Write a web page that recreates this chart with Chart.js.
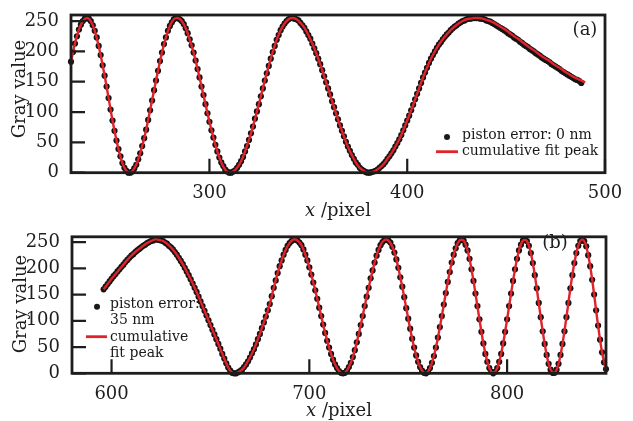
<!DOCTYPE html>
<html>
<head>
<meta charset="utf-8">
<script src="https://cdn.jsdelivr.net/npm/chart.js@4.4.1/dist/chart.umd.min.js"></script>
<style>
  html, body { margin: 0; padding: 0; background: #fff; }
  #wrap { position: relative; width: 633px; height: 421px; }
  canvas { position: absolute; left: 0; }
  #chartA { top: 0; }
  #chartB { top: 222px; }
</style>
</head>
<body>
<div id="wrap">
  <canvas id="chartA" width="633" height="222"></canvas>
  <canvas id="chartB" width="633" height="199"></canvas>
</div>
<script>
// panel (a): measured gray value, one per pixel column starting at x = 230
const startA = 230;
const grayA = [
  183,199,213,225,236,244,250,254,255,254,
  250,243,234,223,209,194,177,160,142,123,
  104,86,69,53,39,27,16,8,3,0,
  0,2,7,13,22,32,44,57,71,87,
  103,119,136,152,168,184,198,212,223,234,
  242,248,253,255,255,253,250,245,238,230,
  220,210,198,185,171,157,142,128,113,98,
  84,70,58,46,35,25,17,11,5,2,
  0,0,2,4,8,13,19,26,35,44,
  54,65,76,89,101,113,126,139,152,164,
  176,188,199,209,219,227,235,241,246,250,
  253,255,255,254,253,251,247,243,239,233,
  227,221,213,205,197,188,179,169,159,149,
  139,129,118,108,98,88,78,69,60,51,
  43,36,29,23,17,13,8,5,3,1,
  0,0,1,2,3,5,8,11,14,18,
  23,27,32,37,43,49,55,62,70,78,
  86,94,103,112,121,130,139,148,157,165,
  173,181,188,194,200,206,211,215,220,224,
  228,231,235,238,241,243,246,248,250,251,
  253,254,254,255,255,255,255,254,254,253,
  251,250,249,247,245,243,241,239,237,235,
  233,230,228,226,223,221,219,216,214,211,
  209,207,204,202,200,197,195,193,190,188,
  186,184,182,179,177,175,173,171,168,166,
  164,162,160,158,156,154,153,151,148
];
// panel (a): cumulative fit peak, every 2 pixels from x = 230
const fitStartA = 230;
const fitA = [
  183,213,236,250,255,250,234,209,177,142,
  104,69,39,16,3,0,7,22,44,71,
  103,136,168,198,223,242,253,255,250,238,
  220,198,171,142,113,84,58,35,17,5,
  0,2,8,19,35,54,76,101,126,152,
  176,199,219,235,246,253,255,253,247,239,
  227,213,197,179,159,139,118,98,78,60,
  43,29,17,8,3,0,1,3,8,14,
  23,32,43,55,70,86,103,121,139,157,
  173,188,200,211,220,228,235,241,246,250,
  253,254,255,255,254,252,250,247,243,239,
  235,230,225,221,216,211,206,202,197,192,
  188,184,179,175,171,166,162,158,155,152,
  149
];

// panel (b): measured gray value, one per pixel column starting at x = 596
const startB = 596;
const grayB = [
  160,165,170,175,180,185,189,194,198,203,
  207,212,216,220,224,227,231,234,237,240,
  243,245,248,250,252,253,255,255,254,253,
  252,249,247,243,240,236,231,226,220,214,
  208,201,194,187,179,171,163,155,146,137,
  128,119,110,101,92,83,74,65,56,47,
  37,28,19,11,5,1,0,0,2,4,
  7,12,17,23,30,38,46,55,65,75,
  86,97,108,120,132,147,163,177,191,204,
  215,226,235,243,248,252,255,255,253,249,
  244,236,226,215,202,188,173,158,142,125,
  109,93,77,62,49,37,26,17,10,4,
  1,0,1,5,12,20,31,44,59,75,
  92,109,128,146,163,181,196,211,224,235,
  244,250,254,255,253,249,241,230,217,201,
  183,165,145,124,104,85,66,49,34,22,
  12,5,1,0,3,10,20,33,49,68,
  88,109,131,153,174,193,211,226,238,248,
  253,255,253,245,234,218,198,176,152,128,
  103,79,57,37,22,10,3,0,3,10,
  22,37,57,79,103,128,152,176,198,218,
  234,245,253,255,252,243,229,210,187,162,
  134,107,80,56,35,18,7,1,1,7,
  18,35,56,80,107,134,162,187,210,229,
  243,252,255,252,242,225,204,178,150,120,
  91,64,40,21,8
];
// panel (b): cumulative fit peak, every 2 pixels from x = 596
const fitStartB = 596;
const fitB = [
  160,170,180,189,198,207,216,224,231,237,
  243,248,252,255,254,252,247,240,231,220,
  208,194,179,163,146,128,110,92,74,56,
  37,19,5,0,2,7,17,30,46,65,
  86,108,132,163,191,215,235,248,255,253,
  244,226,202,173,142,109,77,49,26,10,
  1,1,12,31,59,92,128,163,196,224,
  244,254,253,241,217,183,145,104,66,34,
  12,1,3,20,49,88,131,174,211,238,
  253,253,234,198,152,103,57,22,3,3,
  22,57,103,152,198,234,253,252,229,187,
  134,80,35,7,1,18,56,107,162,210,
  243,255,242,204,150,91,40,8
];

const yTicks = [0, 50, 100, 150, 200, 250];
const xTicksA = [300, 400, 500];
const xTicksB = [600, 700, 800];

const dotLabelA = ['piston error: 0 nm'];
const fitLabelA = ['cumulative fit peak'];
const dotLabelB = ['piston error:', '35 nm'];
const fitLabelB = ['cumulative', 'fit peak'];

const SERIF = '"DejaVu Serif", "Liberation Serif", serif';
const INK = '#1d1d1d';
const RED = '#e0222b';

function toPoints(start, step, values) {
  return values.map((v, i) => ({ x: start + i * step, y: v }));
}

// box, inward ticks, axis titles, legend and panel tag
const framePlugin = {
  id: 'frame',
  afterDatasetsDraw(chart, args, o) {
    const { ctx, chartArea: a, scales } = chart;
    ctx.save();

    ctx.strokeStyle = INK;
    ctx.lineWidth = 2.2;
    ctx.beginPath();
    scales.y.ticks.forEach(t => {
      const y = scales.y.getPixelForValue(t.value);
      ctx.moveTo(a.left, y);
      ctx.lineTo(a.left + 14, y);
    });
    scales.x.ticks.forEach(t => {
      const x = scales.x.getPixelForValue(t.value);
      ctx.moveTo(x, a.bottom);
      ctx.lineTo(x, a.bottom - 14);
    });
    ctx.stroke();

    ctx.lineWidth = 2.8;
    ctx.strokeRect(a.left, a.top, a.right - a.left, a.bottom - a.top);

    // y title
    ctx.fillStyle = '#1e1e1e';
    ctx.font = '18px ' + SERIF;
    ctx.textAlign = 'center';
    ctx.textBaseline = 'middle';
    ctx.save();
    ctx.translate(o.yTitleX, o.yTitleY);
    ctx.rotate(-Math.PI / 2);
    ctx.fillText('Gray value', 0, 0);
    ctx.restore();

    // x title with italic x
    ctx.textAlign = 'left';
    ctx.font = 'italic 18px ' + SERIF;
    const w1 = ctx.measureText('x').width;
    ctx.font = '18px ' + SERIF;
    const w2 = ctx.measureText(' /pixel').width;
    const x0 = (a.left + a.right) / 2 - (w1 + w2) / 2;
    ctx.font = 'italic 18px ' + SERIF;
    ctx.fillText('x', x0, o.xTitleY);
    ctx.font = '18px ' + SERIF;
    ctx.fillText(' /pixel', x0 + w1, o.xTitleY);

    // panel tag
    ctx.font = '18px ' + SERIF;
    ctx.textAlign = 'center';
    ctx.fillText(o.tag, o.tagX, o.tagY);

    // legend
    const lg = o.legend;
    ctx.font = '14px ' + SERIF;
    ctx.textAlign = 'left';
    ctx.fillStyle = '#1a1a1a';
    ctx.beginPath();
    ctx.arc(lg.dotX, lg.dotY, 3, 0, Math.PI * 2);
    ctx.fill();
    lg.dotText.forEach((s, i) => ctx.fillText(s, lg.textX, lg.dotTextY + i * lg.lineGap));
    ctx.strokeStyle = RED;
    ctx.lineWidth = 2.8;
    ctx.beginPath();
    ctx.moveTo(lg.lineX1, lg.lineY);
    ctx.lineTo(lg.lineX2, lg.lineY);
    ctx.stroke();
    lg.fitText.forEach((s, i) => ctx.fillText(s, lg.textX, lg.fitTextY + i * lg.lineGap));

    ctx.restore();
  }
};

function makePanel(id, dots, fit, xMin, xMax, xTicks, layout, frame) {
  return new Chart(document.getElementById(id), {
    type: 'scatter',
    data: {
      datasets: [
        {
          label: 'piston error',
          data: dots,
          order: 2,
          pointRadius: 3.1,
          pointBackgroundColor: '#141414',
          pointBorderWidth: 0,
          clip: 4
        },
        {
          label: 'cumulative fit peak',
          data: fit,
          order: 1,
          showLine: true,
          borderColor: RED,
          borderWidth: 2.4,
          pointRadius: 0,
          tension: 0.4,
          clip: 3
        }
      ]
    },
    options: {
      responsive: false,
      animation: false,
      layout: { padding: layout.padding },
      plugins: {
        legend: { display: false },
        tooltip: { enabled: false },
        frame: frame
      },
      scales: {
        x: {
          type: 'linear',
          min: xMin,
          max: xMax,
          grid: { display: false },
          border: { display: false },
          afterBuildTicks: s => { s.ticks = xTicks.map(v => ({ value: v })); },
          afterFit: s => { s.height = layout.xHeight; },
          ticks: { color: '#1e1e1e', font: { family: SERIF, size: 18 }, padding: 2, maxRotation: 0 }
        },
        y: {
          min: 0,
          max: 260,
          grid: { display: false },
          border: { display: false },
          afterBuildTicks: s => { s.ticks = yTicks.map(v => ({ value: v })); },
          afterFit: s => { s.width = layout.yWidth; },
          ticks: { color: '#1e1e1e', font: { family: SERIF, size: 18 }, padding: 4 }
        }
      }
    },
    plugins: [framePlugin]
  });
}

makePanel('chartA',
  toPoints(startA, 1, grayA), toPoints(fitStartA, 2, fitA),
  230, 500, xTicksA,
  { padding: { left: 0, right: 28, top: 15, bottom: 0 }, xHeight: 49.3, yWidth: 71 },
  {
    yTitleX: 20, yTitleY: 89, xTitleY: 211,
    tag: '(a)', tagX: 585, tagY: 30,
    legend: {
      dotX: 447, dotY: 137, textX: 462, dotTextY: 135.5, lineGap: 16,
      lineX1: 436, lineX2: 458, lineY: 151.7, fitTextY: 151,
      dotText: dotLabelA, fitText: fitLabelA
    }
  });

makePanel('chartB',
  toPoints(startB, 1, grayB), toPoints(fitStartB, 2, fitB),
  580, 850, xTicksB,
  { padding: { left: 0, right: 27, top: 9, bottom: 0 }, xHeight: 47.7, yWidth: 72 },
  {
    yTitleX: 21, yTitleY: 82, xTitleY: 189,
    tag: '(b)', tagX: 555, tagY: 21,
    legend: {
      dotX: 97, dotY: 84.7, textX: 110, dotTextY: 82, lineGap: 16,
      lineX1: 86, lineX2: 107, lineY: 114.7, fitTextY: 115,
      dotText: dotLabelB, fitText: fitLabelB
    }
  });
</script>
</body>
</html>
